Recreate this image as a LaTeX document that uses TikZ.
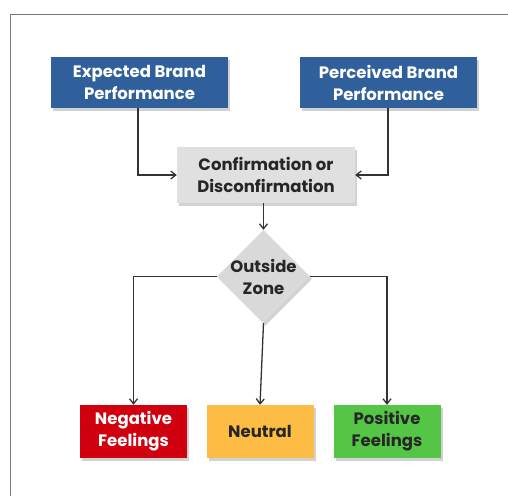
\documentclass[tikz,border=0pt]{standalone}
\usepackage{fontspec}
\setmainfont{Poppins}
\usetikzlibrary{shapes.geometric,shadows,arrows.meta}
\definecolor{brandblue}{HTML}{30609B}
\definecolor{boxgray}{HTML}{E0E0E0}
\definecolor{diagray}{HTML}{D9D9D9}
\definecolor{negred}{HTML}{D0000F}
\definecolor{neutorange}{HTML}{FDBD45}
\definecolor{posgreen}{HTML}{55C546}
\definecolor{framegray}{HTML}{7A7A7A}
\tikzset{
  x=1pt, y=-1pt,
  shade/.style={drop shadow={opacity=0.35, shadow xshift=2pt, shadow yshift=-2.5pt}},
  labelfont/.style={font=\fontsize{16.5}{22}\selectfont\bfseries},
  box/.style={rectangle, shade, inner sep=0pt, align=center, labelfont},
  topbox/.style={box, fill=brandblue, text=white, minimum width=177pt, minimum height=51pt},
  midbox/.style={box, fill=boxgray, text=black!85, minimum width=178pt, minimum height=56pt},
  outbox/.style={box, minimum width=107pt, minimum height=53pt},
  decision/.style={diamond, shade, fill=diagray, inner sep=0pt,
    minimum width=93pt, minimum height=93pt},
  decisiontext/.style={align=center, text=black!85, inner sep=0pt, labelfont},
  link/.style={draw=black!80, line width=1.3pt, -{Straight Barb[length=5pt,width=8pt]}}
}
\begin{document}
\begin{tikzpicture}
\useasboundingbox (0,0) rectangle (508,495);
\fill[white] (0,0) rectangle (508,495);
% outer frame
\draw[framegray, line width=1.8pt] (10.5,496) -- (10.5,14.5) -- (509,14.5);

% nodes
\node[topbox] (exp) at (139.5,82.5) {Expected Brand\\Performance};
\node[topbox] (per) at (388.5,82.5) {Perceived Brand\\Performance};
\node[midbox] (conf) at (266,175) {Confirmation or\\Disconfirmation};
\node[decision] (zone) at (263.5,276.5) {};
\node[decisiontext] (zonetext) at (zone.center) {Outside\\Zone};
\node[outbox, fill=negred, text=white] (neg) at (133.5,431.5) {Negative\\Feelings};
\node[outbox, fill=neutorange, text=black!85] (neu) at (260,431.5) {Neutral};
\node[outbox, fill=posgreen, text=black!85] (pos) at (387,431.5) {Positive\\Feelings};

% connectors
\coordinate (ec) at (138,175);
\coordinate (pc) at (388,175);
\draw[link] (exp.south -| ec) -- (ec) -- (conf.west);
\draw[link] (per.south -| pc) -- (pc) -- (conf.east);
\draw[link] (conf.south -| zone.north) -- (zone.north);
\draw[link] (zone.west) -| (neg.north);
\draw[link] (zone.south) -- (neu.north);
\draw[link] (zone.east) -| (pos.north);
\end{tikzpicture}
\end{document}
